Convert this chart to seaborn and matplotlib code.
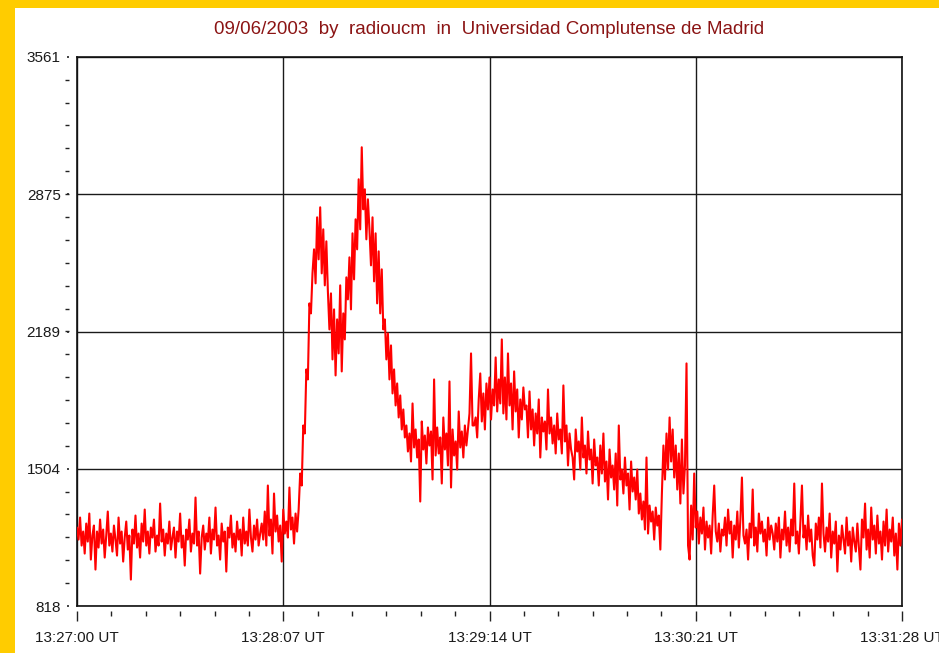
#!/usr/bin/env python3
"""Radio receiver record, 09/06/2003 (radioucm, UCM Madrid) - seaborn recreation."""

import numpy as np
import pandas as pd
import matplotlib
matplotlib.use('Agg')
import matplotlib.pyplot as plt
import seaborn as sns
from matplotlib.patches import Rectangle
from matplotlib.ticker import FixedLocator, AutoMinorLocator, NullLocator

# ---- data (counts, one value every ~0.5 s) ----
baseline_pre = [
    1210, 1150, 1260, 1120, 1190, 1080, 1230, 1140, 1280, 1050, 1170, 1220, 1000, 1190, 1110, 1250, 1130, 1200, 1060, 1170,
    1290, 1120, 1180, 1090, 1220, 1150, 1070, 1260, 1130, 1190, 1040, 1160, 1240, 1100, 1170, 950, 1200, 1130, 1270, 1110,
    1180, 1060, 1230, 1140, 1300, 1120, 1190, 1080, 1210, 1160, 1250, 1090, 1170, 1120, 1330, 1140, 1200, 1070, 1180, 1130,
    1240, 1100, 1160, 1210, 1060, 1190, 1140, 1280, 1110, 1170, 1020, 1200, 1150, 1250, 1090, 1180, 1130, 1360, 1120, 1190,
    980, 1160, 1220, 1100, 1180, 1140, 1260, 1080, 1200, 1150, 1310, 1120, 1170, 1050, 1230, 1140, 1190, 990, 1210, 1160,
    1270, 1110, 1180, 1090, 1240, 1150, 1200, 1070, 1260, 1130, 1190, 1120, 1300, 1160, 1090, 1220, 1150, 1250, 1120, 1180,
    1230, 1150, 1290, 1120, 1420, 1170, 1250, 1080, 1380, 1190, 1270, 1140, 1220, 1040, 1300, 1180, 1240, 1160, 1410, 1200,
    1260, 1130, 1280, 1190,
]
flare_rise = [1300, 1480, 1420, 1720, 1680, 2000, 1950, 2330, 2280, 2480]
first_peak = [2600, 2430, 2760, 2550, 2810, 2480, 2700, 2420, 2640, 2390,
              2200, 2380, 2050, 2300, 1970, 2250, 2080, 2420, 1990, 2280, 2150, 2460]
second_peak = [2350, 2560, 2300, 2680, 2450, 2750, 2600, 2950, 2700, 3110, 2800, 2900, 2650, 2850,
               2700, 2520, 2760, 2440, 2680, 2330, 2590, 2280, 2500, 2200]
decay = [2250, 2050, 2180, 1950, 2120, 1880, 2000, 1820, 1930, 1760, 1870, 1700, 1800, 1660]
trough = [
    1720, 1590, 1680, 1540, 1830, 1610, 1700, 1560, 1650, 1340,
    1740, 1600, 1670, 1530, 1710, 1620, 1690, 1450, 1950, 1570,
    1710, 1580, 1660, 1430, 1760, 1600, 1680, 1520, 1940, 1410,
    1700, 1570, 1640, 1500, 1790, 1610, 1690, 1560, 1720, 1620,
]
second_hump = [
    1700, 1780, 2080, 1720, 1720, 1760, 1660, 1850, 1980, 1740, 1880, 1700, 1930, 1800, 1960, 1750, 1900, 1820, 2060, 1790,
    1950, 1830,
    2150, 1780, 1960, 1750, 2080, 1820, 1930, 1700, 1990, 1790, 1900, 1660, 1850, 1750, 1910, 1800,
    1820, 1660, 1890, 1700, 1800, 1620, 1780, 1680, 1850, 1560, 1760, 1690, 1740, 1600, 1900, 1680, 1760, 1630, 1720, 1580,
    1780, 1650,
]
slow_decline = [
    1700, 1580, 1920, 1640, 1720, 1520, 1680, 1600, 1560, 1450, 1700, 1590, 1640, 1500, 1760, 1560, 1620, 1480, 1690, 1550,
    1600, 1430, 1650, 1520,
    1560, 1420, 1620, 1480, 1680, 1440, 1540, 1350, 1600, 1460, 1520, 1400, 1580, 1320, 1720, 1450, 1500, 1380, 1560, 1420,
    1480, 1300, 1540, 1390, 1460, 1350, 1500, 1280,
    1380, 1250, 1340, 1200, 1560, 1180, 1320, 1240, 1290, 1150, 1310, 1220, 1270, 1100,
]
burst = [1380, 1620, 1450, 1680, 1500, 1760, 1540, 1700, 1460, 1620, 1400, 1580, 1330, 1650, 1380, 1520,
         2030, 1120, 1050, 1320]
baseline_post = [
    1150, 1480, 1210, 1290, 1130, 1260, 1180, 1310, 1100, 1240,
    1160, 1220, 1080, 1270, 1420, 1190, 1140, 1230, 1090, 1200,
    1170, 1260, 1120, 1300, 1180, 1240, 1060, 1220, 1150, 1290,
    1110, 1250, 1460, 1170, 1130, 1200, 1050, 1230, 1160, 1400,
    1120, 1210, 1090, 1280, 1180, 1240, 1140, 1200, 1070, 1260, 1150, 1220,
    1180, 1100, 1230, 1140, 1260, 1060, 1200, 1150, 1290, 1120,
    1210, 1090, 1250, 1170, 1430, 1130, 1190, 1080, 1240, 1420,
    1160, 1220, 1100, 1270, 1140, 1200, 1070, 1020, 1230, 1150,
    1260, 1110, 1430, 1180, 1090, 1210, 1140, 1280, 1060, 1190,
    1130, 1240, 990, 1170, 1100, 1220, 1150, 1080, 1260, 1120,
    1190, 1040, 1210, 1140, 1090, 1230, 1110, 1000, 1250, 1160,
    1330, 1100, 1200, 1060, 1310, 1150, 1220, 1080, 1270, 1130,
    1190, 1050, 1240, 1120, 1300, 1090, 1200, 1140, 1260, 1070,
    1180, 1000, 1230, 1120, 1250,
]

x_tick_values = [0, 67, 134, 201, 268]   # seconds after 13:27:00
x_tick_labels = ['13:27:00 UT', '13:28:07 UT', '13:29:14 UT', '13:30:21 UT', '13:31:28 UT']
y_tick_values = [818, 1504, 2189, 2875, 3561]
title = '09/06/2003  by  radioucm  in  Universidad Complutense de Madrid'

signal = np.array(baseline_pre + flare_rise + first_peak + second_peak + decay + trough
                  + second_hump + slow_decline + burst + baseline_post, dtype=float)
seconds = np.linspace(x_tick_values[0], x_tick_values[-1], len(signal))
df = pd.DataFrame({'t': seconds, 'counts': signal})

# ---- styling ----
sns.set_style('white')
plt.rcParams['font.family'] = ['Liberation Sans', 'DejaVu Sans']

W, H = 939, 653
def px_box(l, t, r, b):
    return [l / W, 1 - b / H, (r - l) / W, (b - t) / H]

fig = plt.figure(figsize=(W / 100, H / 100), dpi=100)
fig.patch.set_facecolor('white')

# yellow frame on left and top
fig.add_artist(Rectangle((0, 0), 15 / W, 1, transform=fig.transFigure, color='#ffcc00', lw=0))
fig.add_artist(Rectangle((0, 1 - 8 / H), 1, 8 / H, transform=fig.transFigure, color='#ffcc00', lw=0))

ax = fig.add_axes(px_box(77, 57, 902, 606))
sns.lineplot(data=df, x='t', y='counts', ax=ax, color='#ff0000', linewidth=1.5, zorder=3)

ax.set_xlim(x_tick_values[0], x_tick_values[-1])
ax.set_ylim(y_tick_values[0], y_tick_values[-1])
ax.xaxis.set_major_locator(FixedLocator(x_tick_values))
ax.yaxis.set_major_locator(FixedLocator(y_tick_values))
ax.grid(True, color='#1a1a1a', linewidth=1.0)
ax.tick_params(length=0, labelbottom=False, labelleft=False)
ax.set_xlabel('')
ax.set_ylabel('')
for s in ax.spines.values():
    s.set_color('#111111')
    s.set_linewidth(1.2)

# tick marks sit a few pixels away from the frame, as in the original
ax_y = fig.add_axes(px_box(69, 57, 71, 606))
ax_y.patch.set_visible(False)
for s in ax_y.spines.values():
    s.set_visible(False)
ax_y.set_ylim(ax.get_ylim())
ax_y.xaxis.set_major_locator(NullLocator())
ax_y.yaxis.set_major_locator(FixedLocator(y_tick_values))
ax_y.yaxis.set_minor_locator(AutoMinorLocator(6))
ax_y.set_yticklabels([str(v) for v in y_tick_values])
ax_y.tick_params(axis='y', which='both', left=True, right=False)
ax_y.tick_params(axis='y', which='major', direction='out', length=1.4, width=1.2,
                 color='#222222', pad=4.6, labelsize=11, labelcolor='#1a1a1a')
ax_y.tick_params(axis='y', which='minor', direction='out', length=3.2, width=1.0, color='#222222')

ax_x = fig.add_axes(px_box(77, 609, 902, 611))
ax_x.patch.set_visible(False)
for s in ax_x.spines.values():
    s.set_visible(False)
ax_x.set_xlim(ax.get_xlim())
ax_x.yaxis.set_major_locator(NullLocator())
ax_x.xaxis.set_major_locator(FixedLocator(x_tick_values))
ax_x.xaxis.set_minor_locator(AutoMinorLocator(6))
ax_x.set_xticklabels(x_tick_labels)
ax_x.tick_params(axis='x', which='both', bottom=True, top=False)
ax_x.tick_params(axis='x', which='major', direction='out', length=7.2, width=1.0,
                 color='#222222', pad=7, labelsize=11, labelcolor='#1a1a1a')
ax_x.tick_params(axis='x', which='minor', direction='out', length=3.6, width=1.0, color='#222222')

fig.text(489.5 / W, 1 - 30 / H, title, ha='center', va='center', fontsize=13.5, color='#8b1414')

fig.savefig('out.png', dpi=100)
plt.close(fig)
